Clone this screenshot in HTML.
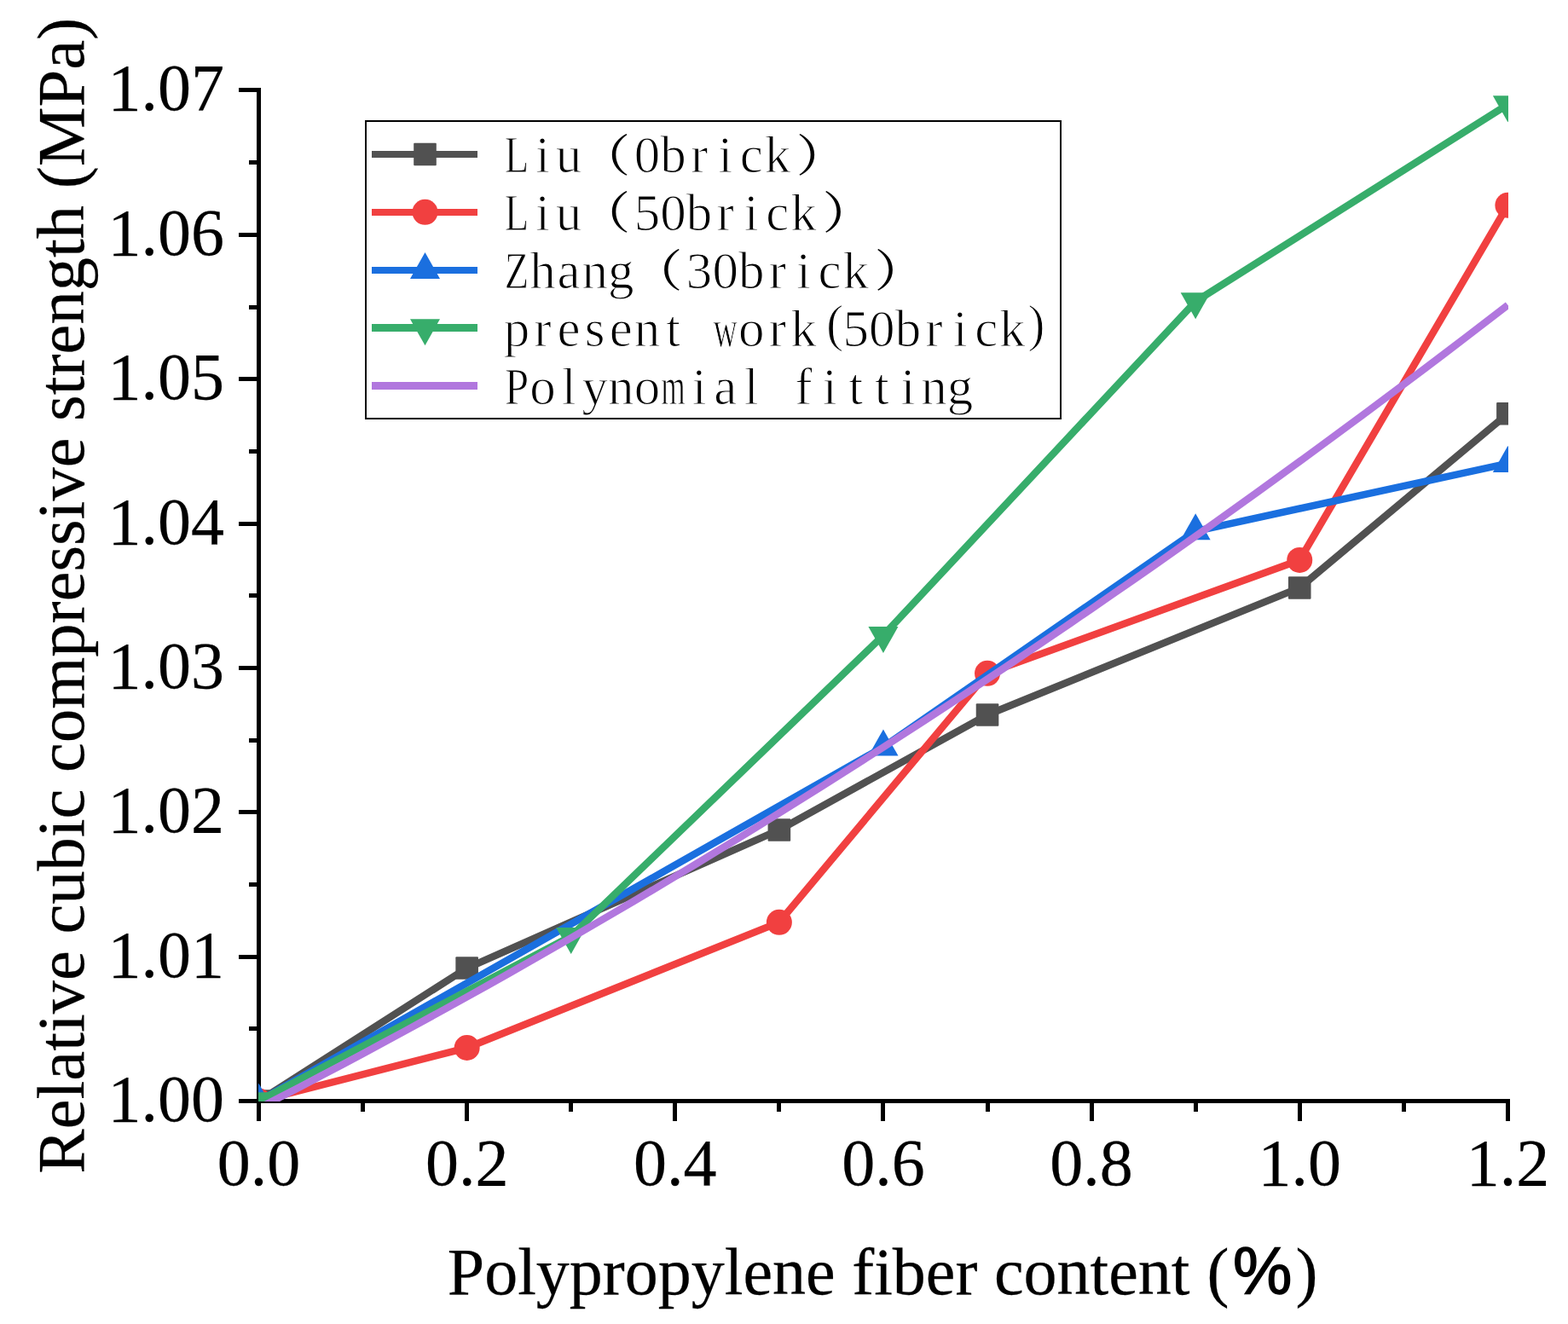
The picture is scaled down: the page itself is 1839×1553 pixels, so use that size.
<!DOCTYPE html>
<html><head><meta charset="utf-8"><title>Relative cubic compressive strength vs polypropylene fiber content</title>
<style>html,body{margin:0;padding:0;background:#fff;overflow:hidden}svg{display:block}</style></head>
<body>
<svg width="1839" height="1553" viewBox="0 0 1839 1553" style="font-family:'Liberation Serif','Noto Serif CJK SC',serif">
<defs><clipPath id="pa"><rect x="303" y="0" width="1466" height="1292"/></clipPath></defs>
<rect width="1839" height="1553" fill="#fff"/>
<rect x="301" y="103" width="5" height="1212" fill="#000"/><rect x="280" y="1289" width="1491" height="5" fill="#000"/><rect x="280" y="1289" width="26" height="5" fill="#000"/><rect x="280" y="1120" width="26" height="5" fill="#000"/><rect x="280" y="950" width="26" height="5" fill="#000"/><rect x="280" y="781" width="26" height="5" fill="#000"/><rect x="280" y="612" width="26" height="5" fill="#000"/><rect x="280" y="442" width="26" height="5" fill="#000"/><rect x="280" y="273" width="26" height="5" fill="#000"/><rect x="280" y="103" width="26" height="5" fill="#000"/><rect x="292" y="1204" width="14" height="5" fill="#000"/><rect x="292" y="1035" width="14" height="5" fill="#000"/><rect x="292" y="866" width="14" height="5" fill="#000"/><rect x="292" y="696" width="14" height="5" fill="#000"/><rect x="292" y="527" width="14" height="5" fill="#000"/><rect x="292" y="358" width="14" height="5" fill="#000"/><rect x="292" y="188" width="14" height="5" fill="#000"/><rect x="301" y="1289" width="5" height="26" fill="#000"/><rect x="545" y="1289" width="5" height="26" fill="#000"/><rect x="789" y="1289" width="5" height="26" fill="#000"/><rect x="1033" y="1289" width="5" height="26" fill="#000"/><rect x="1278" y="1289" width="5" height="26" fill="#000"/><rect x="1522" y="1289" width="5" height="26" fill="#000"/><rect x="1766" y="1289" width="5" height="26" fill="#000"/><rect x="423" y="1289" width="5" height="15" fill="#000"/><rect x="667" y="1289" width="5" height="15" fill="#000"/><rect x="911" y="1289" width="5" height="15" fill="#000"/><rect x="1156" y="1289" width="5" height="15" fill="#000"/><rect x="1400" y="1289" width="5" height="15" fill="#000"/><rect x="1644" y="1289" width="5" height="15" fill="#000"/>
<g clip-path="url(#pa)"><polyline points="303.5,1291.5 547.65,1135.52 913.88,973.44 1158.03,838.46 1524.25,689.43 1768.4,485.18" fill="none" stroke="#515151" stroke-width="8.5" stroke-linejoin="round"/><rect x="290.2" y="1278.2" width="26.6" height="26.6" rx="1" fill="#515151"/><rect x="534.35" y="1122.22" width="26.6" height="26.6" rx="1" fill="#515151"/><rect x="900.58" y="960.14" width="26.6" height="26.6" rx="1" fill="#515151"/><rect x="1144.73" y="825.16" width="26.6" height="26.6" rx="1" fill="#515151"/><rect x="1510.95" y="676.13" width="26.6" height="26.6" rx="1" fill="#515151"/><rect x="1755.1" y="471.88" width="26.6" height="26.6" rx="1" fill="#515151"/><polyline points="303.5,1291.5 547.65,1229.01 913.88,1081.83 1158.03,789.86 1524.25,656.91 1768.4,240.79" fill="none" stroke="#F14040" stroke-width="8.5" stroke-linejoin="round"/><circle cx="303.5" cy="1291.5" r="15.0" fill="#F14040"/><circle cx="547.65" cy="1229.01" r="15.0" fill="#F14040"/><circle cx="913.88" cy="1081.83" r="15.0" fill="#F14040"/><circle cx="1158.03" cy="789.86" r="15.0" fill="#F14040"/><circle cx="1524.25" cy="656.91" r="15.0" fill="#F14040"/><circle cx="1768.4" cy="240.79" r="15.0" fill="#F14040"/><polyline points="303.5,1291.5 1035.95,876.23 1402.17,623.04 1768.4,543.61" fill="none" stroke="#1A6FDF" stroke-width="8.5" stroke-linejoin="round"/><polygon points="303.5,1270.83 321,1301.83 286,1301.83" fill="#1A6FDF"/><polygon points="1035.95,855.56 1053.45,886.56 1018.45,886.56" fill="#1A6FDF"/><polygon points="1402.17,602.37 1419.67,633.37 1384.67,633.37" fill="#1A6FDF"/><polygon points="1768.4,522.94 1785.9,553.94 1750.9,553.94" fill="#1A6FDF"/><polyline points="303.5,1291.5 669.72,1098.26 1035.95,745.31 1402.17,353.58 1768.4,122.58" fill="none" stroke="#37AD6B" stroke-width="8.5" stroke-linejoin="round"/><polygon points="303.5,1312.17 321,1281.17 286,1281.17" fill="#37AD6B"/><polygon points="669.72,1118.93 687.22,1087.93 652.22,1087.93" fill="#37AD6B"/><polygon points="1035.95,765.98 1053.45,734.98 1018.45,734.98" fill="#37AD6B"/><polygon points="1402.17,374.25 1419.67,343.25 1384.67,343.25" fill="#37AD6B"/><polygon points="1768.4,143.24 1785.9,112.24 1750.9,112.24" fill="#37AD6B"/><polyline points="303.5,1299.93 327.92,1287.34 352.33,1274.66 376.75,1261.86 401.16,1248.96 425.57,1235.96 449.99,1222.85 474.41,1209.63 498.82,1196.31 523.24,1182.88 547.65,1169.35 572.07,1155.71 596.48,1141.97 620.89,1128.12 645.31,1114.16 669.72,1100.1 694.14,1085.93 718.56,1071.66 742.97,1057.28 767.38,1042.79 791.8,1028.2 816.22,1013.5 840.63,998.7 865.05,983.79 889.46,968.78 913.88,953.66 938.29,938.43 962.71,923.1 987.12,907.67 1011.53,892.12 1035.95,876.47 1060.37,860.72 1084.78,844.86 1109.2,828.89 1133.61,812.82 1158.03,796.65 1182.44,780.36 1206.86,763.97 1231.27,747.48 1255.68,730.88 1280.1,714.17 1304.52,697.36 1328.93,680.44 1353.35,663.42 1377.76,646.29 1402.17,629.06 1426.59,611.72 1451.01,594.27 1475.42,576.72 1499.84,559.06 1524.25,541.3 1548.66,523.43 1573.08,505.45 1597.5,487.37 1621.91,469.18 1646.33,450.89 1670.74,432.49 1695.16,413.99 1719.57,395.38 1743.98,376.66 1768.4,357.84" fill="none" stroke="#B177DE" stroke-width="8.5" stroke-linejoin="round"/></g>
<rect x="429" y="142" width="815" height="349" fill="none" stroke="#000" stroke-width="2"/><rect x="436" y="177" width="124" height="8" fill="#515151"/><rect x="485.2" y="167.7" width="26.6" height="26.6" rx="1" fill="#515151"/><rect x="436" y="245" width="124" height="8" fill="#F14040"/><circle cx="498.5" cy="248.85" r="15.0" fill="#F14040"/><rect x="436" y="313" width="124" height="8" fill="#1A6FDF"/><polygon points="498.5,296.03 516,327.03 481,327.03" fill="#1A6FDF"/><rect x="436" y="380" width="124" height="9" fill="#37AD6B"/><polygon points="498.5,405.22 516,374.22 481,374.22" fill="#37AD6B"/><rect x="436" y="448" width="124" height="9" fill="#B177DE"/><text font-size="61" xml:space="preserve" stroke="#fff" stroke-width="1.1"><tspan x="591.67" y="202.2" textLength="28.46" lengthAdjust="spacingAndGlyphs">L</tspan><tspan x="628.03" y="202.2">i</tspan><tspan x="651.85" y="202.2">u</tspan><tspan x="678.3" y="200.5" font-size="52" font-weight="500" stroke="none" textLength="61" lengthAdjust="spacingAndGlyphs">（</tspan><tspan x="743.65" y="202.2">0</tspan><tspan x="774.25" y="202.2">b</tspan><tspan x="809.94" y="202.2">r</tspan><tspan x="842.23" y="202.2">i</tspan><tspan x="867.76" y="202.2">c</tspan><tspan x="896.65" y="202.2">k</tspan><tspan x="933.8" y="200.5" font-size="52" font-weight="500" stroke="none" textLength="61" lengthAdjust="spacingAndGlyphs">）</tspan></text><text font-size="61" xml:space="preserve" stroke="#fff" stroke-width="1.1"><tspan x="591.67" y="270.05" textLength="28.46" lengthAdjust="spacingAndGlyphs">L</tspan><tspan x="628.03" y="270.05">i</tspan><tspan x="651.85" y="270.05">u</tspan><tspan x="678.3" y="268.35" font-size="52" font-weight="500" stroke="none" textLength="61" lengthAdjust="spacingAndGlyphs">（</tspan><tspan x="743.65" y="270.05">5</tspan><tspan x="774.25" y="270.05">0</tspan><tspan x="804.85" y="270.05">b</tspan><tspan x="840.54" y="270.05">r</tspan><tspan x="872.83" y="270.05">i</tspan><tspan x="898.36" y="270.05">c</tspan><tspan x="927.25" y="270.05">k</tspan><tspan x="964.4" y="268.35" font-size="52" font-weight="500" stroke="none" textLength="61" lengthAdjust="spacingAndGlyphs">）</tspan></text><text font-size="61" xml:space="preserve" stroke="#fff" stroke-width="1.1"><tspan x="591.67" y="337.9" textLength="28.46" lengthAdjust="spacingAndGlyphs">Z</tspan><tspan x="621.25" y="337.9">h</tspan><tspan x="653.56" y="337.9">a</tspan><tspan x="682.45" y="337.9">n</tspan><tspan x="713.05" y="337.9">g</tspan><tspan x="739.5" y="336.2" font-size="52" font-weight="500" stroke="none" textLength="61" lengthAdjust="spacingAndGlyphs">（</tspan><tspan x="804.85" y="337.9">3</tspan><tspan x="835.45" y="337.9">0</tspan><tspan x="866.05" y="337.9">b</tspan><tspan x="901.74" y="337.9">r</tspan><tspan x="934.03" y="337.9">i</tspan><tspan x="959.56" y="337.9">c</tspan><tspan x="988.45" y="337.9">k</tspan><tspan x="1025.6" y="336.2" font-size="52" font-weight="500" stroke="none" textLength="61" lengthAdjust="spacingAndGlyphs">）</tspan></text><text font-size="61" xml:space="preserve" stroke="#fff" stroke-width="1.1"><tspan x="590.65" y="405.75">p</tspan><tspan x="626.34" y="405.75">r</tspan><tspan x="653.56" y="405.75">e</tspan><tspan x="685.83" y="405.75">s</tspan><tspan x="714.76" y="405.75">e</tspan><tspan x="743.65" y="405.75">n</tspan><tspan x="781.03" y="405.75">t</tspan> <tspan x="836.47" y="405.75" textLength="28.46" lengthAdjust="spacingAndGlyphs">w</tspan><tspan x="866.05" y="405.75">o</tspan><tspan x="901.74" y="405.75">r</tspan><tspan x="927.25" y="405.75">k</tspan><tspan x="968.94" y="399.75">(</tspan><tspan x="988.45" y="405.75">5</tspan><tspan x="1019.05" y="405.75">0</tspan><tspan x="1049.65" y="405.75">b</tspan><tspan x="1085.34" y="405.75">r</tspan><tspan x="1117.63" y="405.75">i</tspan><tspan x="1143.16" y="405.75">c</tspan><tspan x="1172.05" y="405.75">k</tspan><tspan x="1205.14" y="399.75">)</tspan></text><text font-size="61" xml:space="preserve" stroke="#fff" stroke-width="1.1"><tspan x="591.67" y="473.6" textLength="28.46" lengthAdjust="spacingAndGlyphs">P</tspan><tspan x="621.25" y="473.6">o</tspan><tspan x="658.63" y="473.6">l</tspan><tspan x="682.45" y="473.6">y</tspan><tspan x="713.05" y="473.6">n</tspan><tspan x="743.65" y="473.6">o</tspan><tspan x="775.27" y="473.6" textLength="28.46" lengthAdjust="spacingAndGlyphs">m</tspan><tspan x="811.63" y="473.6">i</tspan><tspan x="837.16" y="473.6">a</tspan><tspan x="872.83" y="473.6">l</tspan> <tspan x="932.34" y="473.6">f</tspan><tspan x="964.63" y="473.6">i</tspan><tspan x="995.23" y="473.6">t</tspan><tspan x="1025.83" y="473.6">t</tspan><tspan x="1056.43" y="473.6">i</tspan><tspan x="1080.25" y="473.6">n</tspan><tspan x="1110.85" y="473.6">g</tspan></text>
<g fill="#000" stroke="#000" stroke-width="0.25"><text x="263" y="1315" text-anchor="end" font-size="78">1.00</text><text x="263" y="1145.64" text-anchor="end" font-size="78">1.01</text><text x="263" y="976.28" text-anchor="end" font-size="78">1.02</text><text x="263" y="806.92" text-anchor="end" font-size="78">1.03</text><text x="263" y="637.56" text-anchor="end" font-size="78">1.04</text><text x="263" y="468.2" text-anchor="end" font-size="78">1.05</text><text x="263" y="298.84" text-anchor="end" font-size="78">1.06</text><text x="263" y="129.48" text-anchor="end" font-size="78">1.07</text><text x="303.5" y="1389.8" text-anchor="middle" font-size="78">0.0</text><text x="547.65" y="1389.8" text-anchor="middle" font-size="78">0.2</text><text x="791.8" y="1389.8" text-anchor="middle" font-size="78">0.4</text><text x="1035.95" y="1389.8" text-anchor="middle" font-size="78">0.6</text><text x="1280.1" y="1389.8" text-anchor="middle" font-size="78">0.8</text><text x="1524.25" y="1389.8" text-anchor="middle" font-size="78">1.0</text><text x="1768.4" y="1389.8" text-anchor="middle" font-size="78">1.2</text><text x="524.75" y="1518" font-size="78">Polypropylene fiber content <tspan x="1415.6">(</tspan><tspan x="1445.9" stroke-width="1.4" style="font-family:'Liberation Sans',sans-serif">%</tspan><tspan x="1519.5">)</tspan></text><text transform="translate(98.3 698.75) rotate(-90)" text-anchor="middle" font-size="78.5">Relative cubic compressive strength (MPa)</text></g>
</svg>
</body></html>
